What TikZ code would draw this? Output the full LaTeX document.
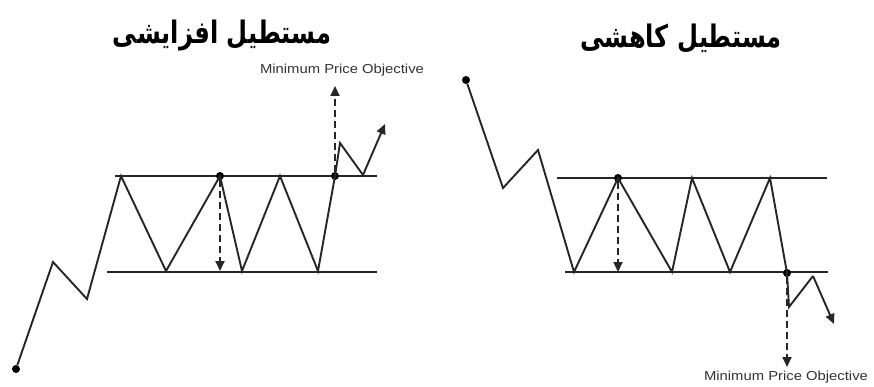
\documentclass[tikz,border=0pt]{standalone}
\usepackage{fontspec}
\setmainfont{Liberation Sans}
\newfontfamily\arabicfont[Script=Arabic]{DejaVu Sans}
\TeXXeTstate=1
\usetikzlibrary{arrows.meta}
\tikzset{
  band/.style={line width=2.8pt, color=black!85},
  price/.style={line width=1.9pt, line join=miter, color=black!85},
  pricearrow/.style={price, -{Triangle[length=10pt,width=9pt]}},
  dotnode/.style={circle, fill=black, inner sep=0pt, minimum size=8pt},
  target/.style={line width=2pt, dash pattern=on 7pt off 4pt, color=black!85, -{Triangle[length=10pt,width=9pt]}},
  objlabel/.style={font=\fontsize{13}{15}\selectfont, text=black!80, inner sep=0pt},
  titlelabel/.style={font=\arabicfont\bfseries\fontsize{31}{36}\selectfont, inner sep=0pt}
}
\begin{document}
\begin{tikzpicture}[x=1pt,y=-1pt]
\useasboundingbox[fill=white] (0,0) rectangle (874,387);

% ---------- left: ascending rectangle ----------
\node[titlelabel] (ltitle) at (222,36) {\scalebox{0.78}[1]{\beginR مستطیل افزایشی\endR}};
\node[objlabel] (lobj) at (342,70) {\scalebox{1.14}[1]{Minimum Price Objective}};

\coordinate (LUa) at (115,176); \coordinate (LUb) at (377,176);
\coordinate (LLa) at (107,272); \coordinate (LLb) at (377,272);
\draw[band] (LUa) -- (LUb);
\draw[band] (LLa) -- (LLb);

\node[dotnode] (L0) at (16,369) {};
\coordinate (L1) at (53,262);
\coordinate (L2) at (87,299);
\coordinate (L3) at (121,176);
\coordinate (L4) at (166,271);
\node[dotnode] (L5) at (220,176) {};
\coordinate (L6) at (242,271);
\coordinate (L7) at (280,176);
\coordinate (L8) at (318,271);
\node[dotnode] (L9) at (335,176) {};
\coordinate (L10) at (340,143);
\coordinate (L11) at (363,175);
\coordinate (L12) at (385,124);
\coordinate (L5b) at (220,271);
\coordinate (L9t) at (335,86);

\draw[price] (L0) -- (L1) -- (L2) -- (L3) -- (L4) -- (L5.center) -- (L6) -- (L7) -- (L8) -- (L9.center) -- (L10) -- (L11);
\draw[pricearrow] (L11) -- (L12);
\draw[target] (L5) -- (L5b);
\draw[target] (L9) -- (L9t);

% ---------- right: descending rectangle ----------
\node[titlelabel] (rtitle) at (681,39) {\scalebox{0.78}[1]{\beginR مستطیل کاهشی\endR}};
\node[objlabel] (robj) at (786,377) {\scalebox{1.14}[1]{Minimum Price Objective}};

\coordinate (RUa) at (557,178); \coordinate (RUb) at (827,178);
\coordinate (RLa) at (565,272); \coordinate (RLb) at (828,272);
\draw[band] (RUa) -- (RUb);
\draw[band] (RLa) -- (RLb);

\node[dotnode] (R0) at (466,80) {};
\coordinate (R1) at (503,188);
\coordinate (R2) at (538,150);
\coordinate (R3) at (574,272);
\node[dotnode] (R4) at (618,178) {};
\coordinate (R5) at (672,272);
\coordinate (R6) at (692,178);
\coordinate (R7) at (730,272);
\coordinate (R8) at (770,178);
\node[dotnode] (R9) at (787,273) {};
\coordinate (R10) at (789,307);
\coordinate (R11) at (813,276);
\coordinate (R12) at (834,324);
\coordinate (R4b) at (618,272);
\coordinate (R9b) at (787,367);

\draw[price] (R0) -- (R1) -- (R2) -- (R3) -- (R4.center) -- (R5) -- (R6) -- (R7) -- (R8) -- (R9.center) -- (R10) -- (R11);
\draw[pricearrow] (R11) -- (R12);
\draw[target] (R4) -- (R4b);
\draw[target] (R9) -- (R9b);
\end{tikzpicture}
\end{document}
